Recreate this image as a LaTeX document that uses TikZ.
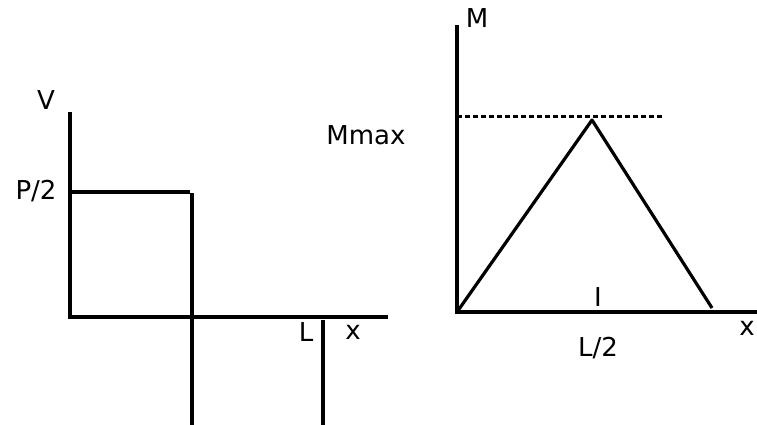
\documentclass[tikz,border=0pt]{standalone}
\usepackage{fontspec}
\setmainfont{DejaVu Sans}
\usetikzlibrary{positioning}

\begin{document}
\begin{tikzpicture}[
    x=1pt, y=-1pt,
    axis/.style={line width=3.2pt},
    level/.style={line width=3pt, dash pattern=on 5pt off 3pt},
    lbl/.style={inner sep=0pt, font=\fontsize{26}{30}\selectfont}
]
\useasboundingbox (0,0) rectangle (757,425);

% shear force diagram
\coordinate (vtop) at (70,112);
\coordinate (vorig) at (70,317);
\coordinate (vxend) at (388,317);
\coordinate (pleft) at (70,192);
\coordinate (pright) at (190,192);
\coordinate (midtop) at (192,193);
\coordinate (midbot) at (192,425);
\coordinate (ltop) at (323,320);
\coordinate (lbot) at (323,425);

\draw[axis] (vtop) -- (vorig) -- (vxend);
\draw[axis] (pleft) -- (pright);
\draw[axis] (midtop) -- (midbot);
\draw[axis] (ltop) -- (lbot);

\node[lbl] (vlabel) at (46,100) {V};
\node[lbl] (plabel) at (36,191) {P/2};
\node[lbl] (llabel) at (306,332) {L};
\node[lbl] (vxlabel) at (353,332) {x};
\node[lbl] (mmaxlabel) at (366,135) {Mmax};

% bending moment diagram
\coordinate (mtop) at (457,25);
\coordinate (morig) at (457,312);
\coordinate (mxend) at (757,312);
\coordinate (dleft) at (457,117);
\coordinate (dright) at (662,117);
\coordinate (apex) at (592,120);
\coordinate (tend) at (712,308);

\draw[axis] (mtop) -- (morig) -- (mxend);
\draw[level] (dleft) -- (dright);
\draw[axis, line join=round] (morig) -- (apex) -- (tend);

\node[lbl] (mlabel) at (477,18) {M};
\node[lbl] (ilabel) at (598,297) {I};
\node[lbl] (mxlabel) at (747,328) {x};
\node[lbl] (halflabel) at (598,348) {L/2};
\end{tikzpicture}
\end{document}
